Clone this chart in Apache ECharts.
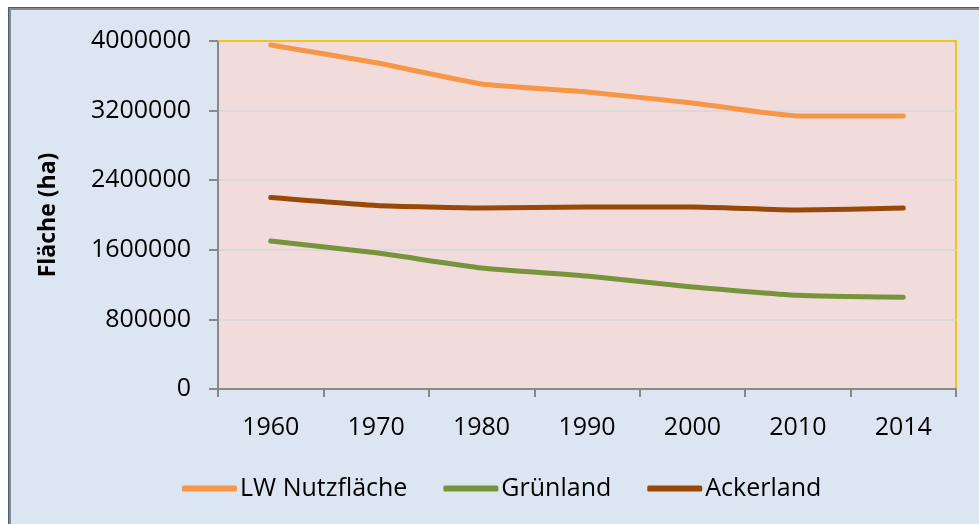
<!DOCTYPE html>
<html>
<head>
<meta charset="utf-8">
<script src="https://cdn.jsdelivr.net/npm/echarts@6/dist/echarts.min.js"></script>
<style>
html,body{margin:0;padding:0;background:#fff;}
#c{width:979px;height:524px;}
</style>
</head>
<body>
<div id="c"></div>
<script>
const categories = ['1960','1970','1980','1990','2000','2010','2014'];
const lwNutzflaeche = [3954000, 3750000, 3506000, 3414000, 3287000, 3138000, 3138000];
const gruenland = [1701000, 1565000, 1391000, 1299000, 1172000, 1077000, 1054000];
const ackerland = [2201000, 2110000, 2080000, 2092000, 2092000, 2057000, 2080000];
const seriesNames = ['LW Nutzfläche', 'Grünland', 'Ackerland'];
const yAxisTitle = 'Fläche (ha)';

const FONT = '"Open Sans", "DejaVu Sans", sans-serif';
const chart = echarts.init(document.getElementById('c'), null, {renderer: 'canvas'});
const lineStyle = (c) => ({color: c, width: 5, cap: 'round', join: 'round'});
chart.setOption({
  backgroundColor: '#ffffff',
  animation: false,
  graphic: [
    {type: 'rect', silent: true, z: -10, shape: {x: 8, y: 7, width: 1000, height: 600}, style: {fill: '#3d6479'}},
    {type: 'rect', silent: true, z: -10, shape: {x: 9, y: 8, width: 1000, height: 600}, style: {fill: '#8a8a8a'}},
    {type: 'rect', silent: true, z: -10, shape: {x: 11, y: 10, width: 1000, height: 600}, style: {fill: '#dce6f2'}}
  ],
  textStyle: {fontFamily: FONT},
  grid: {
    left: 218, top: 41, right: 23, bottom: 135,
    show: true, backgroundColor: '#f2dcdb', borderColor: '#f8c21c', borderWidth: 2
  },
  legend: {
    left: 177, top: 471,
    itemWidth: 55, itemHeight: 6, itemGap: 36,
    icon: 'roundRect',
    textStyle: {fontFamily: FONT, fontSize: 25, color: '#000', padding: [0, 0, 0, -2]},
    data: seriesNames
  },
  xAxis: [{
    type: 'category',
    data: categories,
    boundaryGap: true,
    axisLine: {lineStyle: {color: '#888888', width: 2}},
    axisTick: {show: true, length: 8, lineStyle: {color: '#888888', width: 2}},
    axisLabel: {color: '#000', fontSize: 25, fontFamily: FONT, margin: 26},
    splitLine: {show: false}
  }, {
    type: 'category',
    data: categories,
    position: 'top',
    boundaryGap: true,
    axisLine: {show: true, lineStyle: {color: '#f8c21c', width: 2}},
    axisTick: {show: false},
    axisLabel: {show: false},
    splitLine: {show: false}
  }],
  yAxis: {
    type: 'value',
    min: 0, max: 4000000, interval: 800000,
    name: yAxisTitle,
    nameLocation: 'middle',
    nameGap: 158,
    nameRotate: 90,
    nameTextStyle: {fontFamily: FONT, fontSize: 23, fontWeight: 'bold', color: '#000'},
    axisLine: {show: true, lineStyle: {color: '#888888', width: 2}},
    axisTick: {show: true, length: 9, lineStyle: {color: '#888888', width: 2}},
    axisLabel: {color: '#000', fontSize: 25, fontFamily: FONT, margin: 27, formatter: (v) => String(v)},
    splitLine: {lineStyle: {color: '#d9d9d9', width: 2}}
  },
  series: [
    {name: seriesNames[0], type: 'line', data: lwNutzflaeche, showSymbol: false, symbol: 'none', smooth: 0.15, color: '#f79646', lineStyle: lineStyle('#f79646')},
    {name: seriesNames[1], type: 'line', data: gruenland, showSymbol: false, symbol: 'none', smooth: 0.15, color: '#77933c', lineStyle: lineStyle('#77933c')},
    {name: seriesNames[2], type: 'line', data: ackerland, showSymbol: false, symbol: 'none', smooth: 0.15, color: '#984807', lineStyle: lineStyle('#984807')}
  ]
});
</script>
</body>
</html>
